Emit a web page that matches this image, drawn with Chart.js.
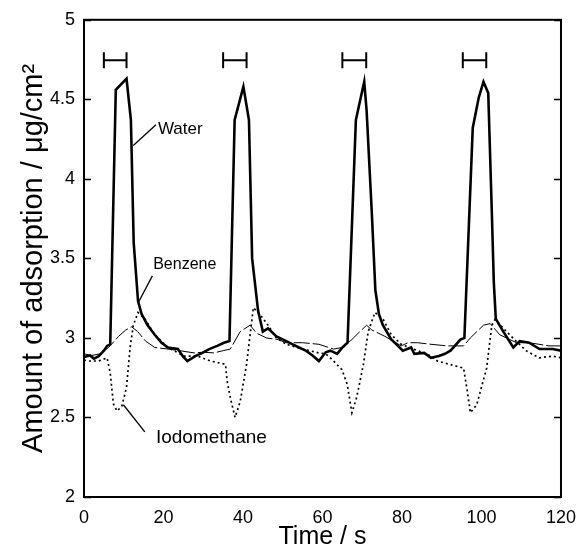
<!DOCTYPE html>
<html>
<head>
<meta charset="utf-8">
<script src="https://cdn.jsdelivr.net/npm/chart.js@4.4.1/dist/chart.umd.min.js"></script>
<style>
  html, body { margin: 0; padding: 0; background: #fff; }
  #wrap { width: 586px; height: 550px; }
</style>
</head>
<body>
<div id="wrap"><canvas id="chart"></canvas></div>
<script>
// time (s) and amount of adsorption (ug/cm2)
const waterT = [0, 1.5, 2.5, 3.7, 5, 5.8, 6.6, 8, 10.7, 11.8, 12.5, 13.6, 14.5, 16, 17.8, 19.5, 21.1, 23.6, 25, 26, 28, 29.8, 31.5, 33.5, 35.2, 36.6, 37.9, 40.1, 41.5, 42.3, 43.8, 45, 46.3, 48.4, 50.9, 52.5, 54.1, 55.8, 57.5, 59.1, 60.8, 62, 63.7, 65, 66.3, 68.4, 70.5, 71.1, 72.4, 73.3, 74.2, 75.2, 77.3, 79, 80.2, 82.3, 83.1, 85.6, 87.3, 89.3, 90.8, 92.2, 94.7, 95.7, 97.8, 99.3, 100.5, 101.7, 102.6, 103.1, 103.6, 105.5, 108, 109.6, 112, 114.6, 117.9, 120]
const waterV = [2.88, 2.89, 2.87, 2.885, 2.92, 2.95, 2.96, 4.56, 4.63, 4.37, 3.6, 3.23, 3.15, 3.08, 3.02, 2.97, 2.94, 2.93, 2.88, 2.855, 2.886, 2.906, 2.93, 2.95, 2.97, 2.98, 4.37, 4.58, 4.37, 3.5, 3.17, 3.04, 3.06, 3.01, 2.98, 2.96, 2.94, 2.92, 2.89, 2.855, 2.91, 2.92, 2.9, 2.94, 2.97, 4.37, 4.61, 4.43, 3.79, 3.3, 3.15, 3.08, 2.99, 2.95, 2.92, 2.94, 2.9, 2.906, 2.875, 2.886, 2.9, 2.92, 2.99, 3.0, 4.32, 4.51, 4.61, 4.54, 3.79, 3.35, 3.12, 3.04, 2.94, 2.98, 2.97, 2.93, 2.93, 2.92]

const benzeneT = [0, 2, 4, 6.2, 8.7, 10.5, 12, 13.5, 15.5, 17.8, 21.1, 24, 27.7, 30, 32.7, 35, 36.8, 39.3, 41.8, 43.4, 45.9, 48.8, 50.8, 55, 59.1, 62.8, 64.9, 67.4, 69, 71.1, 72.4, 75.7, 79.8, 81.5, 83.9, 87.3, 91.4, 95.5, 97.2, 100.5, 102.2, 104.6, 108.8, 112, 117, 120]
const benzeneV = [2.9, 2.89, 2.9, 2.94, 3.01, 3.05, 3.07, 3.04, 2.98, 2.94, 2.93, 2.92, 2.906, 2.91, 2.906, 2.92, 2.93, 3.04, 3.08, 3.03, 3.0, 2.99, 2.97, 2.97, 2.96, 2.93, 2.94, 2.99, 3.03, 3.08, 3.05, 3.01, 2.95, 2.97, 2.97, 2.96, 2.95, 2.95, 3.0, 3.08, 3.09, 3.02, 2.97, 2.97, 2.95, 2.95]

const iodoT = [0, 1.2, 3.7, 5.8, 6.6, 7.4, 8.3, 9.5, 10.7, 11.6, 12.4, 13.6, 15.3, 17.8, 21.1, 25.2, 28.5, 31.8, 35.6, 36, 36.8, 38, 39.3, 40.9, 42.6, 44.2, 46.3, 48.4, 50.9, 55, 59.1, 60.8, 62.4, 64.9, 66.2, 67.4, 68.6, 70.3, 71.5, 73.2, 75.3, 77.3, 79.8, 83.9, 87.3, 88.9, 95.5, 96.4, 97.2, 98.8, 101.3, 102.6, 103.4, 105.5, 108.3, 111.2, 114.5, 117.9, 120]
const iodoV = [2.86, 2.855, 2.855, 2.875, 2.78, 2.585, 2.54, 2.57, 2.69, 2.94, 3.08, 3.16, 3.12, 3.02, 2.94, 2.886, 2.886, 2.855, 2.834, 2.73, 2.626, 2.5, 2.6, 2.834, 3.19, 3.15, 3.08, 3.0, 2.96, 2.93, 2.906, 2.9, 2.865, 2.8, 2.71, 2.53, 2.626, 2.834, 3.04, 3.16, 3.115, 3.02, 2.96, 2.92, 2.886, 2.855, 2.81, 2.67, 2.53, 2.58, 2.81, 3.08, 3.115, 3.06, 2.99, 2.92, 2.875, 2.886, 2.875]

// injection intervals marked at the top
const pulseStart = [5, 35, 65, 95.3]
const pulseEnd = [10.7, 40.9, 71, 101.2]
const pulseLevel = 4.745

const xTicks = [0, 20, 40, 60, 80, 100, 120]
const yTicks = [2, 2.5, 3, 3.5, 4, 4.5, 5]

const FONT = '"Liberation Sans", Arial, Helvetica, sans-serif'

function pairs(xs, ys) {
    return xs.map((x, i) => ({x: x, y: ys[i]}))
}

// brackets: one dataset with gaps between the pairs
const bracketData = []
pulseStart.forEach((s, i) => {
    bracketData.push({x: s, y: pulseLevel}, {x: pulseEnd[i], y: pulseLevel}, {x: pulseEnd[i] + 0.1, y: null})
})

// curve labels with their leader lines (in data units)
const labels = [
    {text: 'Water', x: 18.6, y: 4.31, size: 17, from: [12.4, 4.21], to: [18.1, 4.34]},
    {text: 'Benzene', x: 17.4, y: 3.46, size: 16, from: [13.6, 3.22], to: [17.2, 3.39]},
    {text: 'Iodomethane', x: 18.1, y: 2.375, size: 19, from: [9.9, 2.58], to: [15.3, 2.41]}
]

const framePlugin = {
    id: 'frame',
    afterDraw(chart) {
        const ctx = chart.ctx
        const a = chart.chartArea
        const xs = chart.scales.x
        const ys = chart.scales.y
        ctx.save()
        ctx.strokeStyle = '#000'
        ctx.lineWidth = 2
        ctx.strokeRect(a.left, a.top, a.right - a.left, a.bottom - a.top)
        // inward ticks on both y axes
        ctx.lineWidth = 1.5
        yTicks.forEach(v => {
            const py = Math.round(ys.getPixelForValue(v)) + 0.5
            ctx.beginPath()
            ctx.moveTo(a.left, py); ctx.lineTo(a.left + 7, py)
            ctx.moveTo(a.right, py); ctx.lineTo(a.right - 7, py)
            ctx.stroke()
        })
        // labels
        ctx.lineWidth = 1.3
        ctx.fillStyle = '#000'
        ctx.textBaseline = 'middle'
        ctx.textAlign = 'left'
        labels.forEach(l => {
            ctx.beginPath()
            ctx.moveTo(xs.getPixelForValue(l.from[0]), ys.getPixelForValue(l.from[1]))
            ctx.lineTo(xs.getPixelForValue(l.to[0]), ys.getPixelForValue(l.to[1]))
            ctx.stroke()
            ctx.font = l.size + 'px ' + FONT
            ctx.fillText(l.text, xs.getPixelForValue(l.x), ys.getPixelForValue(l.y))
        })
        ctx.restore()
    }
}

const config = {
    type: 'line',
    data: {
        datasets: [
            {
                label: 'Water',
                data: pairs(waterT, waterV),
                borderColor: '#000',
                borderWidth: 2.6,
                pointRadius: 0
            },
            {
                label: 'Benzene',
                data: pairs(benzeneT, benzeneV),
                borderColor: '#000',
                borderWidth: 1,
                borderDash: [16, 3],
                pointRadius: 0
            },
            {
                label: 'Iodomethane',
                data: pairs(iodoT, iodoV),
                borderColor: '#000',
                borderWidth: 1.7,
                borderDash: [2, 3],
                pointRadius: 0
            },
            {
                label: 'pulse',
                data: bracketData,
                borderColor: '#000',
                borderWidth: 2,
                pointStyle: 'line',
                rotation: 90,
                pointRadius: 8,
                pointBorderWidth: 2,
                pointBorderColor: '#000',
                spanGaps: false
            }
        ]
    },
    options: {
        responsive: true,
        maintainAspectRatio: false,
        animation: false,
        events: [],
        layout: {padding: {top: 16, right: 16, left: 0, bottom: 0}},
        elements: {line: {tension: 0}},
        plugins: {legend: {display: false}, tooltip: {enabled: false}},
        scales: {
            x: {
                type: 'linear',
                min: 0,
                max: 120,
                afterFit: s => { s.height = 53 },
                afterBuildTicks: s => { s.ticks = xTicks.map(v => ({value: v})) },
                grid: {display: false, drawTicks: false},
                border: {display: false},
                ticks: {color: '#000', font: {family: FONT, size: 18}, padding: 10, maxRotation: 0},
                title: {
                    display: true,
                    text: 'Time / s',
                    color: '#000',
                    font: {family: FONT, size: 25, lineHeight: 1},
                    padding: {top: 0, bottom: 0}
                }
            },
            y: {
                min: 2,
                max: 5,
                afterFit: s => { s.width = 84 },
                afterBuildTicks: s => { s.ticks = yTicks.map(v => ({value: v})) },
                grid: {display: false, drawTicks: false},
                border: {display: false},
                ticks: {color: '#000', font: {family: FONT, size: 18}, padding: 9, callback: v => String(v)},
                title: {
                    display: true,
                    text: 'Amount of adsorption / \u03bcg/cm\u00b2',
                    color: '#000',
                    font: {family: FONT, size: 29},
                    padding: {top: 17, bottom: 0}
                }
            }
        }
    },
    plugins: [framePlugin]
}

const myChart = new Chart(document.getElementById('chart'), config)
</script>
</body>
</html>
